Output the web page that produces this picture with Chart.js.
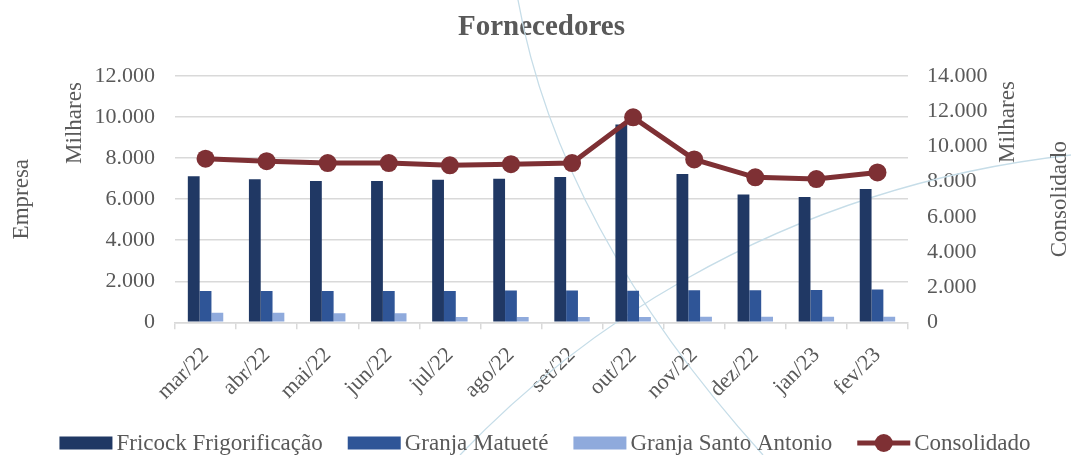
<!DOCTYPE html>
<html>
<head>
<meta charset="utf-8">
<script src="https://cdn.jsdelivr.net/npm/chart.js@4"></script>
<style>
  html, body { margin: 0; padding: 0; background: #fff; }
  #wrap { width: 1071px; height: 455px; position: relative; }
</style>
</head>
<body>
<div id="wrap"><canvas id="chart"></canvas></div>
<script>
// ==================== DATA ====================
const categories = ['mar/22', 'abr/22', 'mai/22', 'jun/22', 'jul/22', 'ago/22', 'set/22', 'out/22', 'nov/22', 'dez/22', 'jan/23', 'fev/23'];
const fricock = [7120, 6970, 6890, 6890, 6940, 6990, 7080, 9640, 7220, 6230, 6100, 6490];
const matuete = [1530, 1530, 1530, 1530, 1530, 1550, 1550, 1540, 1560, 1560, 1570, 1600];
const santoAntonio = [460, 460, 440, 440, 260, 260, 260, 260, 270, 270, 270, 270];
const consolidado = [9300, 9160, 9050, 9050, 8920, 8990, 9050, 11650, 9260, 8240, 8140, 8520];
const leftTicks = [0, 2000, 4000, 6000, 8000, 10000, 12000];
const rightTicks = [0, 2000, 4000, 6000, 8000, 10000, 12000, 14000];

const FONT = "'Liberation Serif', 'DejaVu Serif', serif";
const GRAY = '#595959';
const GRID = '#d9d9d9';
const LINE_RED = '#7e3034';

// thousands with a dot, like "12.000"
function fmt(v) {
    return String(v).replace(/\B(?=(\d{3})+(?!\d))/g, '.');
}

// ==================== EXTRA DRAWING ====================
// faint background arcs seen behind the plot
const bgArcs = {
    id: 'bgArcs',
    beforeDatasetsDraw(chart) {
        const ctx = chart.ctx;
        ctx.save();
        ctx.strokeStyle = '#c6dde8';
        ctx.lineWidth = 1.3;
        ctx.beginPath();
        ctx.moveTo(518, 0);
        ctx.quadraticCurveTo(559, 229, 763, 455);
        ctx.stroke();
        ctx.beginPath();
        ctx.moveTo(460, 455);
        ctx.bezierCurveTo(560, 350, 760, 190, 1071, 155);
        ctx.stroke();
        ctx.restore();
    }
};

// axis titles (Excel style, both read bottom-to-top)
const axisTitles = {
    id: 'axisTitles',
    afterDraw(chart) {
        const ctx = chart.ctx;
        const area = chart.chartArea;
        const midY = (area.top + area.bottom) / 2;
        const put = (text, x, y) => {
            ctx.save();
            ctx.translate(x, y);
            ctx.rotate(-Math.PI / 2);
            ctx.textAlign = 'center';
            ctx.textBaseline = 'middle';
            ctx.fillText(text, 0, 0);
            ctx.restore();
        };
        ctx.save();
        ctx.fillStyle = GRAY;
        ctx.font = '23px ' + FONT;
        put('Empresa', 22, midY);
        put('Milhares', 75, 123);
        put('Milhares', 1008, 122);
        put('Consolidado', 1060, midY);
        ctx.restore();
    }
};

// bottom legend, laid out by hand so it stays on one row like Excel's
const rowLegend = {
    id: 'rowLegend',
    afterDraw(chart) {
        const ctx = chart.ctx;
        const cy = 443, centerX = 545, boxW = 53, boxH = 13, textGap = 4, itemGap = 25;
        ctx.save();
        ctx.font = '23px ' + FONT;
        ctx.textBaseline = 'middle';
        const items = chart.data.datasets.map(ds => ({
            text: ds.label,
            color: ds.backgroundColor,
            isLine: ds.type === 'line',
            w: ctx.measureText(ds.label).width
        }));
        const total = items.reduce((s, it) => s + boxW + textGap + it.w, 0) + itemGap * (items.length - 1);
        let x = centerX - total / 2;
        items.forEach(it => {
            ctx.fillStyle = it.color;
            if (it.isLine) {
                ctx.fillRect(x, cy - 2.5, boxW, 5);
                ctx.beginPath();
                ctx.arc(x + boxW / 2, cy, 9, 0, Math.PI * 2);
                ctx.fill();
            } else {
                ctx.fillRect(x, cy - boxH / 2, boxW, boxH);
            }
            ctx.fillStyle = GRAY;
            ctx.fillText(it.text, x + boxW + textGap, cy + 1);
            x += boxW + textGap + it.w + itemGap;
        });
        ctx.restore();
    }
};

// ==================== CHART ====================
const tickFont = { family: FONT, size: 22 };

new Chart(document.getElementById('chart'), {
    type: 'bar',
    data: {
        labels: categories,
        datasets: [
            { label: 'Fricock Frigorificação', data: fricock, backgroundColor: '#203864', yAxisID: 'y', order: 1 },
            { label: 'Granja Matueté', data: matuete, backgroundColor: '#2f5597', yAxisID: 'y', order: 1 },
            { label: 'Granja Santo Antonio', data: santoAntonio, backgroundColor: '#8faadc', yAxisID: 'y', order: 1 },
            {
                type: 'line', label: 'Consolidado', data: consolidado, yAxisID: 'y2', order: 0,
                borderColor: LINE_RED, backgroundColor: LINE_RED, borderWidth: 5,
                pointRadius: 9, pointHoverRadius: 9, pointBackgroundColor: LINE_RED, pointBorderWidth: 0,
                tension: 0
            }
        ]
    },
    options: {
        responsive: true,
        maintainAspectRatio: false,
        animation: false,
        layout: { padding: { left: 26, right: 0, top: 0, bottom: 52.7 } },
        datasets: { bar: { categoryPercentage: 0.58, barPercentage: 1.0 } },
        plugins: {
            tooltip: { enabled: false },
            legend: { display: false },
            title: {
                display: true,
                fullSize: false,
                text: 'Fornecedores',
                color: GRAY,
                font: { family: FONT, size: 29, weight: 'bold' },
                padding: { top: 10.6, bottom: 30.6 }
            }
        },
        scales: {
            x: {
                grid: { display: true, drawOnChartArea: false, drawTicks: true, tickLength: 7, offset: true, color: GRID, lineWidth: 1.5 },
                border: { display: true, color: GRID, width: 1.5 },
                ticks: { color: GRAY, font: tickFont, minRotation: 45, maxRotation: 45, padding: 13, autoSkip: false },
                afterFit(s) { s.height = 80; }
            },
            y: {
                position: 'left',
                min: 0, max: leftTicks[leftTicks.length - 1],
                afterBuildTicks(s) { s.ticks = leftTicks.map(v => ({ value: v })); },
                grid: { color: GRID, lineWidth: 1.5, drawTicks: false },
                border: { display: false },
                ticks: { color: GRAY, font: tickFont, padding: 20, autoSkip: false, callback: v => fmt(v) },
                afterFit(s) { s.width = 149; }
            },
            y2: {
                position: 'right',
                min: 0, max: rightTicks[rightTicks.length - 1],
                afterBuildTicks(s) { s.ticks = rightTicks.map(v => ({ value: v })); },
                grid: { drawOnChartArea: false, drawTicks: false },
                border: { display: false },
                ticks: { color: GRAY, font: tickFont, padding: 19, autoSkip: false, callback: v => fmt(v) },
                afterFit(s) { s.width = 163; }
            }
        }
    },
    plugins: [bgArcs, axisTitles, rowLegend]
});
</script>
</body>
</html>
